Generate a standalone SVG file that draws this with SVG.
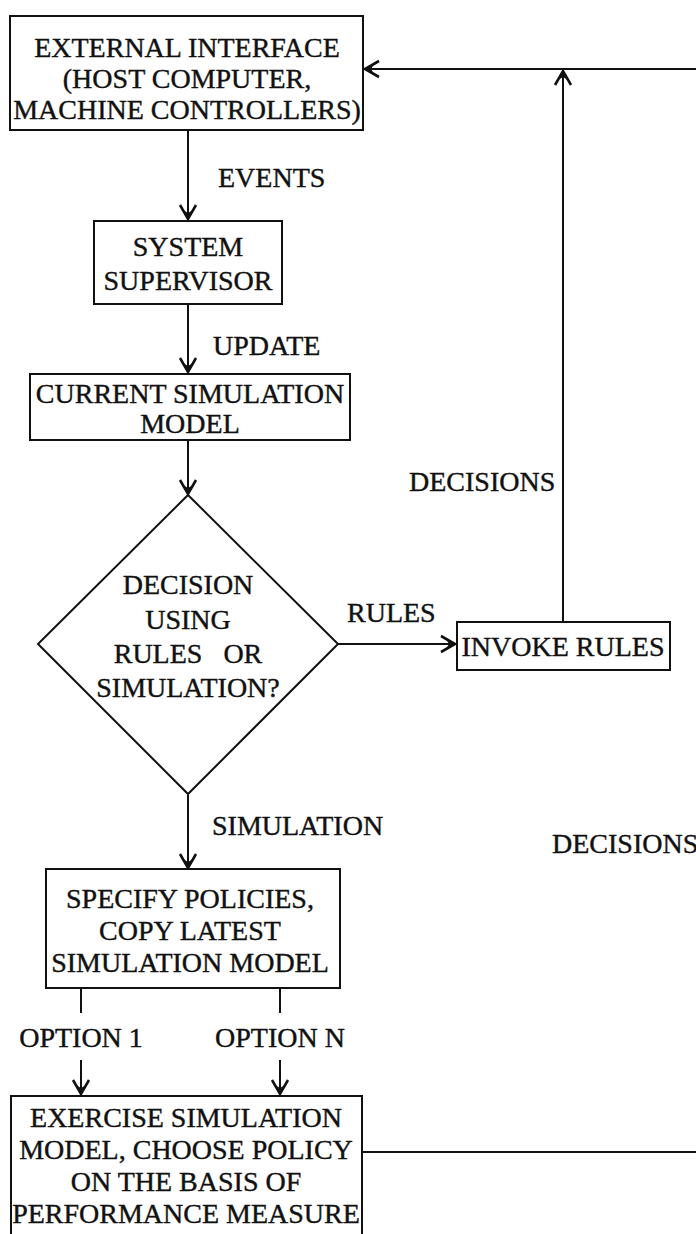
<svg xmlns="http://www.w3.org/2000/svg" width="696" height="1234" viewBox="0 0 696 1234">
  <style>
    .box { fill: #fff; stroke: #111; stroke-width: 2; }
    .lbl { font-family: "Liberation Serif", "Times New Roman", serif; font-size: 28px; fill: #111; stroke: #111; stroke-width: 0.4; }
    .c { text-anchor: middle; }
    .wire { fill: none; stroke: #111; stroke-width: 2; }
    .arr { marker-end: url(#head); }
  </style>
  <defs>
    <!-- barbed chevron arrowhead -->
    <marker id="head" markerUnits="userSpaceOnUse" viewBox="-18 -10 20 20" refX="0" refY="0" markerWidth="20" markerHeight="20" orient="auto">
      <path d="M-15,-8 L-1,0 L-15,8" fill="none" stroke="#111" stroke-width="2.6"/>
      <path d="M0,0 L-10,-5 L-7,0 L-10,5 Z" fill="#111"/>
    </marker>
  </defs>
  <rect width="696" height="1234" fill="#fff"/>

  <g id="connectors">
    <line class="wire arr" x1="188" y1="130" x2="188" y2="220"/>
    <line class="wire arr" x1="188" y1="304" x2="188" y2="373"/>
    <line class="wire arr" x1="188" y1="440" x2="188" y2="495"/>
    <line class="wire arr" x1="338" y1="644" x2="456" y2="644"/>
    <line class="wire arr" x1="563" y1="622" x2="563" y2="70"/>
    <line class="wire arr" x1="696" y1="69" x2="364" y2="69"/>
    <line class="wire arr" x1="188" y1="795" x2="188" y2="869"/>
    <line class="wire" x1="81" y1="988" x2="81" y2="1013"/>
    <line class="wire" x1="280" y1="988" x2="280" y2="1013"/>
    <line class="wire arr" x1="81" y1="1060" x2="81" y2="1095"/>
    <line class="wire arr" x1="280" y1="1060" x2="280" y2="1095"/>
    <line class="wire" x1="362" y1="1152" x2="696" y2="1152"/>
    <text class="lbl" x="218" y="187">EVENTS</text>
    <text class="lbl" x="213" y="355">UPDATE</text>
    <text class="lbl" x="409" y="491">DECISIONS</text>
    <text class="lbl" x="347" y="622">RULES</text>
    <text class="lbl" x="212" y="835">SIMULATION</text>
    <text class="lbl" x="552" y="853">DECISIONS</text>
    <text class="lbl c" x="81" y="1047">OPTION 1</text>
    <text class="lbl c" x="280" y="1047">OPTION N</text>
  </g>

  <g id="external-interface">
    <rect class="box" x="10" y="16" width="353" height="114"/>
    <text class="lbl c" x="187" y="57">EXTERNAL INTERFACE</text>
    <text class="lbl c" x="187" y="88">(HOST COMPUTER,</text>
    <text class="lbl c" x="187" y="119">MACHINE CONTROLLERS)</text>
  </g>

  <g id="system-supervisor">
    <rect class="box" x="94" y="221" width="188" height="83"/>
    <text class="lbl c" x="188" y="256">SYSTEM</text>
    <text class="lbl c" x="188" y="290">SUPERVISOR</text>
  </g>

  <g id="current-model">
    <rect class="box" x="30" y="374" width="320" height="66"/>
    <text class="lbl c" x="190" y="403">CURRENT SIMULATION</text>
    <text class="lbl c" x="190" y="433">MODEL</text>
  </g>

  <g id="decision">
    <polygon class="box" points="188,495 338,644 188,794 38,644"/>
    <text class="lbl c" x="188" y="594">DECISION</text>
    <text class="lbl c" x="188" y="629">USING</text>
    <text class="lbl c" x="188" y="663">RULES&#160;&#160;&#160;OR</text>
    <text class="lbl c" x="188" y="697">SIMULATION?</text>
  </g>

  <g id="invoke-rules">
    <rect class="box" x="457" y="622" width="213" height="48"/>
    <text class="lbl c" x="563" y="656">INVOKE RULES</text>
  </g>

  <g id="specify-policies">
    <rect class="box" x="46" y="869" width="294" height="119"/>
    <text class="lbl c" x="190" y="908">SPECIFY POLICIES,</text>
    <text class="lbl c" x="190" y="940">COPY LATEST</text>
    <text class="lbl c" x="190" y="972">SIMULATION MODEL</text>
  </g>

  <g id="exercise-model">
    <rect class="box" x="11" y="1096" width="351" height="160"/>
    <text class="lbl c" x="186" y="1127">EXERCISE SIMULATION</text>
    <text class="lbl c" x="186" y="1159">MODEL, CHOOSE POLICY</text>
    <text class="lbl c" x="186" y="1191">ON THE BASIS OF</text>
    <text class="lbl c" x="186" y="1223">PERFORMANCE MEASURE</text>
  </g>
</svg>
